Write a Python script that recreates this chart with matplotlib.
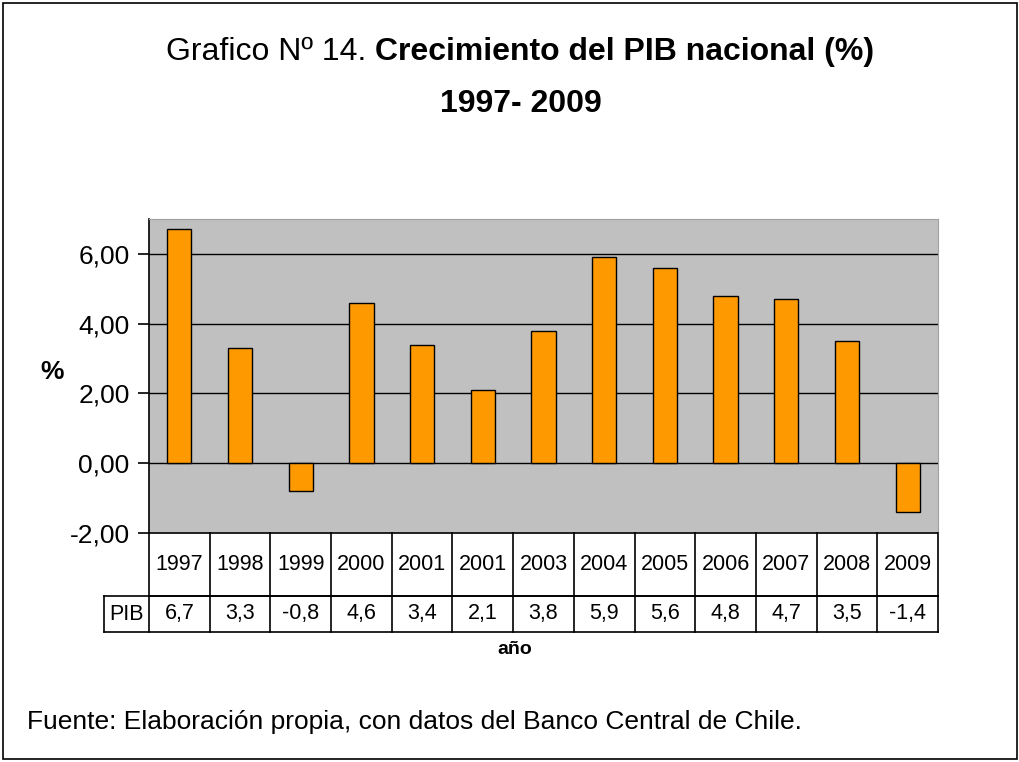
import matplotlib
matplotlib.use("Agg")
import matplotlib.pyplot as plt
from matplotlib.transforms import blended_transform_factory
from matplotlib.patches import Rectangle

plt.rcParams['font.family'] = ['Liberation Sans', 'DejaVu Sans']

years = ["1997", "1998", "1999", "2000", "2001", "2001", "2003", "2004",
         "2005", "2006", "2007", "2008", "2009"]
pib = [6.7, 3.3, -0.8, 4.6, 3.4, 2.1, 3.8, 5.9, 5.6, 4.8, 4.7, 3.5, -1.4]
yticks = [-2, 0, 2, 4, 6]
series_label = "PIB"

W, H = 1020, 762
fig = plt.figure(figsize=(W / 100, H / 100), dpi=100)
fig.patch.set_facecolor("white")

# outer border
fig.patches.append(Rectangle((3 / W, 3 / H), 1014 / W, 756 / H, transform=fig.transFigure,
                             fill=False, edgecolor="black", linewidth=1.2))

L, R, T, B = 149, 938, 219, 533
ax = fig.add_axes([L / W, (H - B) / H, (R - L) / W, (B - T) / H])
ax.set_facecolor("#C0C0C0")
x = list(range(len(years)))
ax.bar(x, pib, width=0.4, color="#FF9900", edgecolor="black", linewidth=1.0, zorder=3)
ax.set_xlim(-0.5, len(years) - 0.5)
ax.set_ylim(-2, 7)
ax.set_yticks(yticks)
ax.set_yticklabels([f"{v:.2f}".replace(".", ",") for v in yticks], fontsize=19)
for v in yticks[1:]:
    ax.axhline(v, color="black", linewidth=1.0, zorder=2)
ax.set_xticks([])
ax.tick_params(axis="y", direction="out", length=8, width=1.2, pad=6)
ax.spines["left"].set_linewidth(1.2)
ax.spines["bottom"].set_linewidth(1.2)
ax.spines["top"].set_color("#A0A0A0")
ax.spines["right"].set_color("#A0A0A0")

# data table below
tr = blended_transform_factory(ax.transData, ax.transAxes)
h_ax = B - T
r1 = -63 / h_ax
r2 = -99 / h_ax
n = len(years)
lw = 1.2
hdr_left = -0.5 - 45 / (789 / 13)
ax.plot([-0.5, n - 0.5], [r1, r1], color="black", lw=lw, transform=tr, clip_on=False)
ax.plot([hdr_left, n - 0.5], [r1, r1], color="black", lw=lw, transform=tr, clip_on=False)
ax.plot([hdr_left, n - 0.5], [r2, r2], color="black", lw=lw, transform=tr, clip_on=False)
for i in range(n + 1):
    ax.plot([i - 0.5, i - 0.5], [0, r2], color="black", lw=lw, transform=tr, clip_on=False)
ax.plot([hdr_left, hdr_left], [r1, r2], color="black", lw=lw, transform=tr, clip_on=False)
for i in range(n):
    ax.text(i, r1 / 2, years[i], ha="center", va="center", fontsize=15.5, transform=tr)
    ax.text(i, (r1 + r2) / 2, f"{pib[i]:.1f}".replace(".", ","), ha="center",
            va="center", fontsize=15.5, transform=tr)
ax.text((hdr_left - 0.5) / 2, (r1 + r2) / 2, series_label, ha="center", va="center",
        fontsize=15.5, transform=tr)

# axis labels
fig.text(52 / W, 1 - 372 / H, "%", fontsize=19, fontweight="bold", ha="center", va="center")
fig.text(515 / W, 1 - 650 / H, "año", fontsize=14, fontweight="bold", ha="center", va="center")

# title
t1 = fig.text(0, 1 - 52 / H, "Grafico Nº 14. ", fontsize=23, ha="left", va="center")
t2 = fig.text(0, 1 - 52 / H, "Crecimiento del PIB nacional (%)", fontsize=23,
              fontweight="bold", ha="left", va="center")
fig.canvas.draw()
r = fig.canvas.get_renderer()
w1 = t1.get_window_extent(r).width
w2 = t2.get_window_extent(r).width
start = 520 - (w1 + w2) / 2
t1.set_x(start / W)
t2.set_x((start + w1) / W)
fig.text(521 / W, 1 - 104 / H, "1997- 2009", fontsize=23, fontweight="bold",
         ha="center", va="center")

fig.text(27 / W, 1 - 722 / H, "Fuente: Elaboración propia, con datos del Banco Central de Chile.",
         fontsize=19, ha="left", va="center")

fig.savefig("out.png", dpi=100, facecolor="white")
